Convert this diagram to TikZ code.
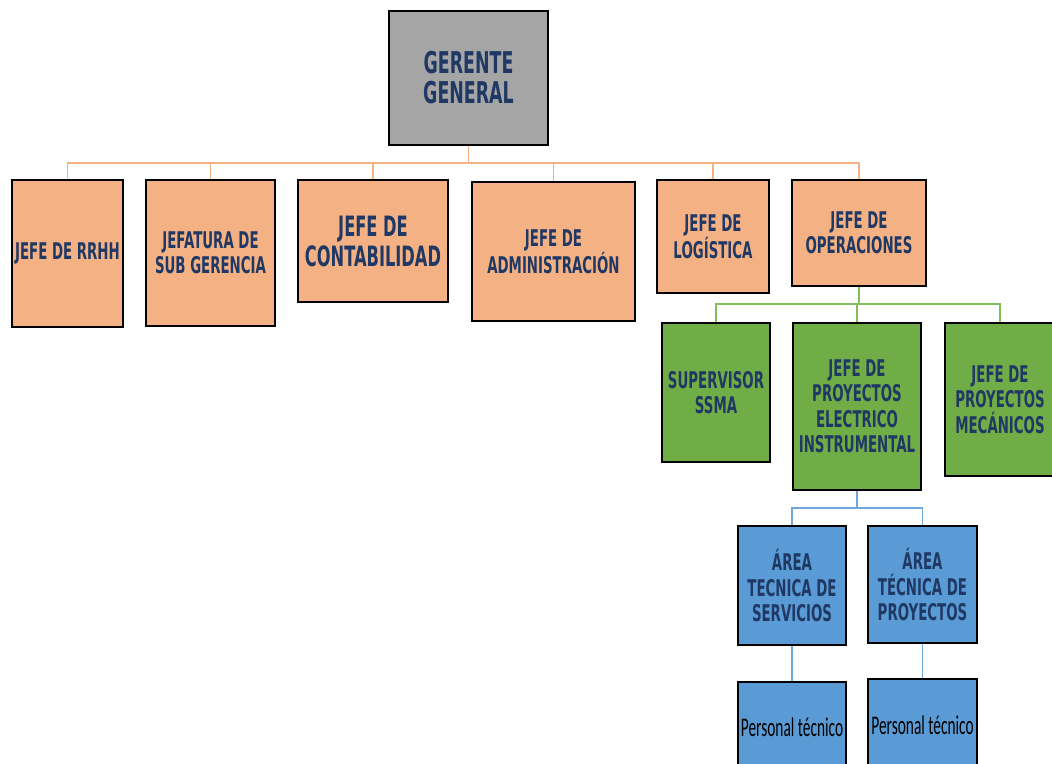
\documentclass[tikz,border=0pt]{standalone}
\usepackage{fontspec}
\newfontfamily\boxfont[FakeStretch=0.58]{DejaVu Sans}
\newfontfamily\persfont[FakeStretch=0.57]{Carlito}
\definecolor{txtnavy}{HTML}{1F3864}
\definecolor{ggray}{HTML}{A5A5A5}
\definecolor{oran}{HTML}{F4B183}
\definecolor{gree}{HTML}{70AD47}
\definecolor{blu}{HTML}{5B9BD5}
\definecolor{olin}{HTML}{F4B183}
\definecolor{glin}{HTML}{82BD5C}
\definecolor{blin}{HTML}{6FA8DC}
\tikzset{
  box/.style={draw=black, line width=1.5pt, inner sep=0pt, align=center,
    text=txtnavy, font=\boxfont\bfseries\fontsize{23}{25.5}\selectfont},
  obox/.style={box, fill=oran},
  gbox/.style={box, fill=gree},
  bbox/.style={box, fill=blu},
  pbox/.style={box, fill=blu, text=black, font=\persfont\fontsize{27}{29}\selectfont},
  oline/.style={draw=olin, line width=1.6pt},
  gline/.style={draw=glin, line width=1.6pt},
  bline/.style={draw=blin, line width=1.6pt},
}
\begin{document}
\begin{tikzpicture}[x=1pt,y=-1pt]
\useasboundingbox (0,0) rectangle (1052,763);
% top
\node[box, fill=ggray, minimum width=159pt, minimum height=134pt,
  font=\boxfont\bfseries\fontsize{30}{30}\selectfont] (gg) at (468.5,78) {GERENTE\\GENERAL};
% orange row
\node[obox, minimum width=111pt, minimum height=147pt] (rrhh) at (67.5,253.5) {JEFE DE RRHH};
\node[obox, minimum width=129pt, minimum height=146pt] (jef) at (210.5,253) {JEFATURA DE\\SUB GERENCIA};
\node[obox, minimum width=150pt, minimum height=122pt,
  font=\boxfont\bfseries\fontsize{28}{30}\selectfont] (cont) at (373,241) {JEFE DE\\CONTABILIDAD};
\node[obox, minimum width=163pt, minimum height=139pt] (adm) at (553.5,251.5) {JEFE DE\\ADMINISTRACIÓN};
\node[obox, minimum width=112pt, minimum height=113pt] (log) at (713,236.5) {JEFE DE\\LOGÍSTICA};
\node[obox, minimum width=134pt, minimum height=106pt] (oper) at (859,233) {JEFE DE\\OPERACIONES};
% green row
\node[gbox, minimum width=108pt, minimum height=139pt] (ssma) at (716,392.5) {SUPERVISOR\\SSMA};
\node[gbox, minimum width=128pt, minimum height=167pt] (elec) at (857,406.5) {JEFE DE\\PROYECTOS\\ELECTRICO\\INSTRUMENTAL};
\node[gbox, minimum width=110pt, minimum height=153pt] (mec) at (1000,399.5) {JEFE DE\\PROYECTOS\\MECÁNICOS};
% blue row
\node[bbox, minimum width=108pt, minimum height=119pt] (ats) at (792,585.5) {ÁREA\\TECNICA DE\\SERVICIOS};
\node[bbox, minimum width=109pt, minimum height=117pt] (atp) at (922.5,584.5) {ÁREA\\TÉCNICA DE\\PROYECTOS};
\node[pbox, minimum width=108pt, minimum height=90pt] (p1) at (792,727) {Personal técnico};
\node[pbox, minimum width=109pt, minimum height=93pt] (p2) at (922.5,725.5) {Personal técnico};
% connectors
\coordinate (obus) at (468.5,163);
\coordinate (gbus) at (859,304);
\coordinate (bbus) at (857,508);
\draw[oline] (gg.south) -- (obus);
\foreach \n in {rrhh,jef,cont,adm,log,oper} \draw[oline] (\n.north) |- (obus);
\draw[gline] (oper.south) -- (gbus);
\foreach \n in {ssma,elec,mec} \draw[gline] (\n.north) |- (gbus);
\draw[bline] (elec.south) -- (bbus);
\foreach \n in {ats,atp} \draw[bline] (\n.north) |- (bbus);
\draw[bline] (ats.south) -- (p1.north);
\draw[bline] (atp.south) -- (p2.north);
\end{tikzpicture}
\end{document}
